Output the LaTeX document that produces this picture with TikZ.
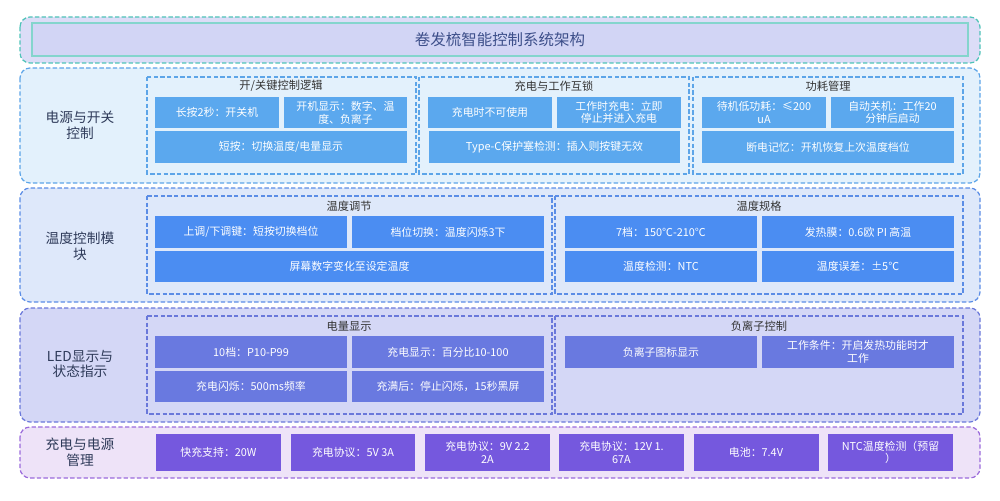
\documentclass[tikz,border=0pt]{standalone}
\usepackage{fontspec}
\setmainfont{Noto Sans CJK SC}
\usetikzlibrary{positioning}
\definecolor{tealline}{HTML}{4FC3B8}
\definecolor{titlefill}{HTML}{DCDDF7}
\definecolor{titleinner}{HTML}{D2D5F5}
\definecolor{titletext}{HTML}{3D4F8A}
\definecolor{powfill}{HTML}{E3F1FC}
\definecolor{powline}{HTML}{5DA5E8}
\definecolor{powcell}{HTML}{5BA8EE}
\definecolor{tmpfill}{HTML}{DEE8FA}
\definecolor{tmpline}{HTML}{5B8DE6}
\definecolor{tmpcell}{HTML}{4B8DF2}
\definecolor{ledfill}{HTML}{D4D7F6}
\definecolor{ledline}{HTML}{6A78DA}
\definecolor{ledcell}{HTML}{6979E0}
\definecolor{chgfill}{HTML}{EEE3F8}
\definecolor{chgline}{HTML}{9B6BDB}
\definecolor{chgcell}{HTML}{7558DE}
\definecolor{labeltext}{HTML}{2E3A59}
\tikzset{
    band/.style={rounded corners=0.2cm, dashed, dash pattern=on 2.5pt off 1.3pt, line width=0.7pt},
    groupbox/.style={dashed, dash pattern=on 2.5pt off 1.3pt, line width=0.6pt},
    bandlabel/.style={text=labeltext, align=center, font=\fontsize{7.8pt}{9pt}\selectfont},
    grouptitle/.style={text=black!80, font=\fontsize{6.4pt}{7.5pt}\selectfont},
    cell/.style={text=white, align=center, inner sep=0pt, font=\fontsize{6.2pt}{7.2pt}\selectfont},
    small/.style={cell, minimum width=2.47cm, minimum height=0.62cm},
    smallwide/.style={cell, minimum width=5.04cm, minimum height=0.63cm},
    half/.style={cell, minimum width=3.84cm, minimum height=0.63cm},
    halfwide/.style={cell, minimum width=7.78cm, minimum height=0.63cm},
    charge/.style={cell, minimum width=2.5cm, minimum height=0.74cm},
}
\begin{document}
\begin{tikzpicture}[x=0.02cm, y=-0.02cm]
        \useasboundingbox (0,0) rectangle (1000,500);
        % title
        \draw[band, draw=tealline, fill=titlefill] (20,17) rectangle (980,63);
        \draw[draw=tealline!70, fill=titleinner, line width=0.6pt] (32,23) rectangle (968,56);
        \node[text=titletext, font=\fontsize{8.8pt}{10pt}\selectfont] (title) at (500,40) {卷发梳智能控制系统架构};
        % bands
        \draw[band, draw=powline, fill=powfill] (20,68) rectangle (980,183);
        \draw[band, draw=tmpline, fill=tmpfill] (20,188) rectangle (980,302);
        \draw[band, draw=ledline, fill=ledfill] (20,308) rectangle (980,422);
        \draw[band, draw=chgline, fill=chgfill] (20,427) rectangle (980,478);
        \node[bandlabel] (powlabel) at (80,125) {电源与开关\\控制};
        \node[bandlabel] (tmplabel) at (80,246) {温度控制模\\块};
        \node[bandlabel] (ledlabel) at (80,364) {LED显示与\\状态指示};
        \node[bandlabel] (chglabel) at (80,452) {充电与电源\\管理};
        % groups
        \draw[groupbox, draw=powline] (147,77) rectangle (416,174);
        \draw[groupbox, draw=powline] (419,77) rectangle (689,174);
        \draw[groupbox, draw=powline] (693,77) rectangle (963,174);
        \draw[groupbox, draw=tmpline] (147,196) rectangle (552,294);
        \draw[groupbox, draw=tmpline] (555,196) rectangle (963,294);
        \draw[groupbox, draw=ledline] (147,316) rectangle (552,414);
        \draw[groupbox, draw=ledline] (555,316) rectangle (963,414);
        \node[grouptitle] (g1) at (281,86) {开/关键控制逻辑};
        \node[grouptitle] (g2) at (554,86) {充电与工作互锁};
        \node[grouptitle] (g3) at (828,86) {功耗管理};
        \node[grouptitle] (g4) at (349,206) {温度调节};
        \node[grouptitle] (g5) at (759,206) {温度规格};
        \node[grouptitle] (g6) at (349,326) {电量显示};
        \node[grouptitle] (g7) at (759,326) {负离子控制};
        \begin{scope}
            \tikzstyle{every node}=[fill=powcell]
            \node[small] (longpress) at (217,112.5) {长按2秒：开关机};
            \node[small] (bootshow) at (345.5,112.5) {开机显示：数字、温\\度、负离子};
            \node[smallwide] (shortpress) at (281,147) {短按：切换温度/电量显示};
            \node[small] (nocharge) at (490,112.5) {充电时不可使用};
            \node[small] (stopwork) at (619,112.5) {工作时充电：立即\\停止并进入充电};
            \node[smallwide] (plugcheck) at (554.5,147) {Type-C保护塞检测：插入则按键无效};
            \node[small] (standby) at (764,112.5) {待机低功耗：≤200\\uA};
            \node[small] (autooff) at (892.5,112.5) {自动关机：工作20\\分钟后启动};
            \node[smallwide] (memory) at (828,147) {断电记忆：开机恢复上次温度档位};
        \end{scope}
        \begin{scope}
            \tikzstyle{every node}=[fill=tmpcell]
            \node[half] (updown) at (251,232) {上调/下调键：短按切换档位};
            \node[half] (gearswitch) at (448,232) {档位切换：温度闪烁3下};
            \node[halfwide] (screen) at (349.5,266.5) {屏幕数字变化至设定温度};
            \node[half] (gears) at (661,232) {7档：150℃-210℃};
            \node[half] (heater) at (858,232) {发热膜：0.6欧 PI 高温};
            \node[half] (ntc) at (661,266.5) {温度检测：NTC};
            \node[half] (error) at (858,266.5) {温度误差：±5℃};
        \end{scope}
        \begin{scope}
            \tikzstyle{every node}=[fill=ledcell]
            \node[half] (levels) at (251,352) {10档：P10-P99};
            \node[half] (chgshow) at (448,352) {充电显示：百分比10-100};
            \node[half] (blink) at (251,386.5) {充电闪烁：500ms频率};
            \node[half] (full) at (448,386.5) {充满后：停止闪烁，15秒黑屏};
            \node[half] (ionicon) at (661,352) {负离子图标显示};
            \node[half] (ioncond) at (858,352) {工作条件：开启发热功能时才\\工作};
        \end{scope}
        \begin{scope}
            \tikzstyle{every node}=[fill=chgcell]
            \node[charge] (fast) at (218.5,452.5) {快充支持：20W};
            \node[charge] (proto5) at (353,452.5) {充电协议：5V 3A};
            \node[charge] (proto9) at (487.5,452.5) {充电协议：9V 2.2\\2A};
            \node[charge] (proto12) at (621.5,452.5) {充电协议：12V 1.\\67A};
            \node[charge] (battery) at (756,452.5) {电池：7.4V};
            \node[charge] (ntcres) at (890.5,452.5) {NTC温度检测（预留\\）};
        \end{scope}
    \end{tikzpicture}
\end{document}
